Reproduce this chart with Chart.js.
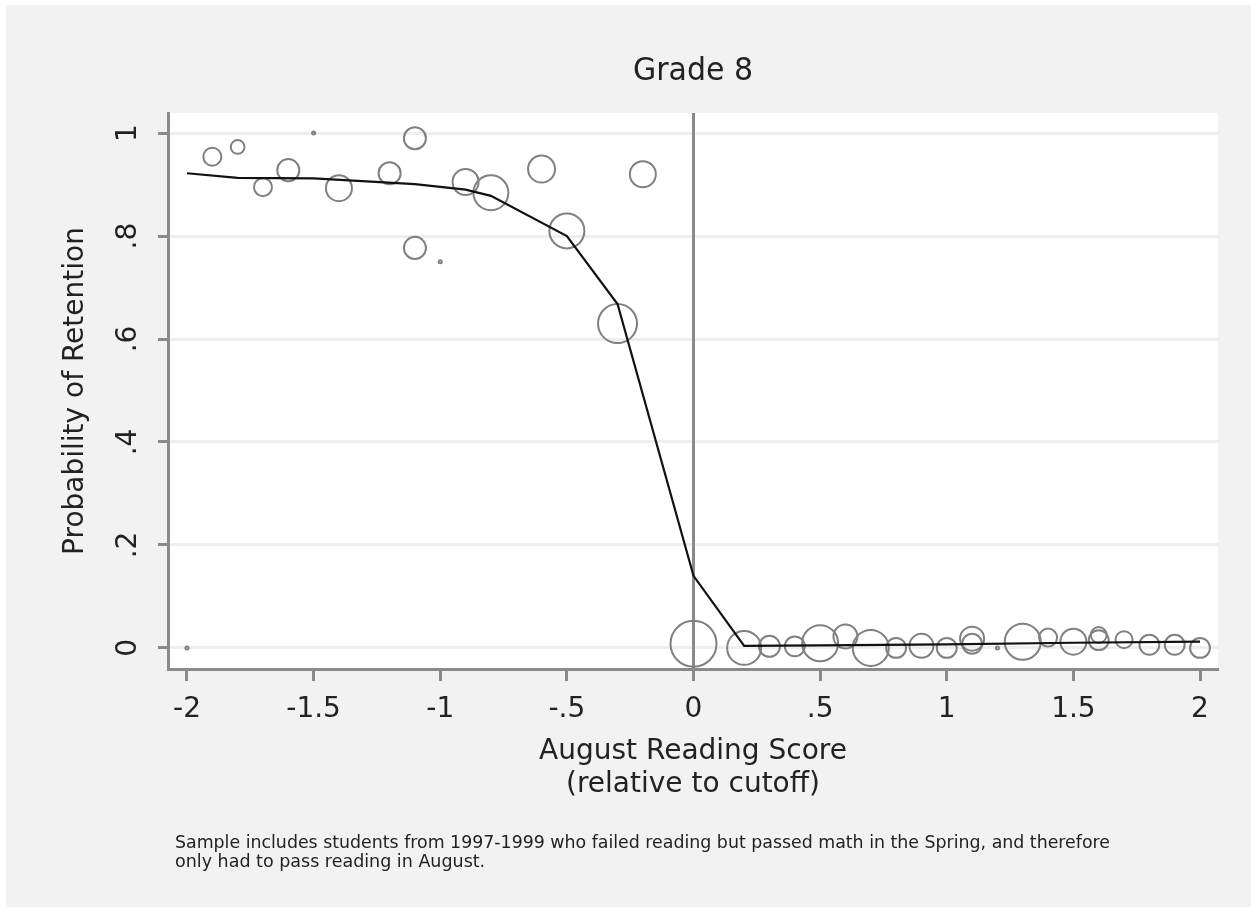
<!DOCTYPE html>
<html lang="en">
<head>
<meta charset="UTF-8">
<title>Grade 8 - Probability of Retention</title>
<script src="https://cdn.jsdelivr.net/npm/chart.js"></script>
<style>
  html, body { margin: 0; padding: 0; background: #fff; }
  canvas { display: block; }
</style>
</head>
<body>
<canvas id="retentionChart" width="1251" height="907"></canvas>
<script>
// binned means: August reading score bin, share retained, students in the bin
var binScore    = [-2.0, -1.9, -1.8, -1.7, -1.6, -1.5, -1.4, -1.2, -1.1, -1.1, -1.0, -0.9, -0.8, -0.6, -0.5, -0.3, -0.2,
                   0.0, 0.2, 0.3, 0.4, 0.5, 0.6, 0.7, 0.8, 0.9, 1.0, 1.1, 1.1, 1.2, 1.3, 1.4, 1.5, 1.6, 1.6, 1.7, 1.8, 1.9, 2.0];
var binRetained = [0.000, 0.954, 0.973, 0.895, 0.928, 1.000, 0.893, 0.922, 0.990, 0.777, 0.750, 0.905, 0.884, 0.930, 0.810, 0.630, 0.920,
                   0.008, 0.000, 0.003, 0.003, 0.009, 0.022, 0.000, 0.000, 0.004, 0.000, 0.018, 0.008, 0.000, 0.012, 0.020, 0.012, 0.025, 0.015, 0.016, 0.006, 0.006, 0.000];
var binCount    = [1, 36, 21, 36, 54, 1, 75, 54, 54, 54, 1, 75, 136, 81, 136, 169, 75,
                   235, 128, 49, 44, 144, 64, 144, 44, 64, 44, 64, 44, 1, 144, 36, 75, 28, 44, 32, 44, 44, 44];

// fitted probability of retention
var fitScore    = [-2.0, -1.8, -1.5, -1.1, -0.9, -0.8, -0.5, -0.3, 0.0, 0.2, 0.5, 1.0, 1.5, 2.0];
var fitRetained = [0.922, 0.913, 0.912, 0.901, 0.890, 0.878, 0.800, 0.668, 0.140, 0.004, 0.005, 0.007, 0.010, 0.012];

var xTicks = [-2, -1.5, -1, -0.5, 0, 0.5, 1, 1.5, 2];
var xTickLabels = ['-2', '-1.5', '-1', '-.5', '0', '.5', '1', '1.5', '2'];
var yTicks = [0, 0.2, 0.4, 0.6, 0.8, 1];
var yTickLabels = ['0', '.2', '.4', '.6', '.8', '1'];
var cutoff = 0;

var chartTitle = 'Grade 8';
var yTitle = 'Probability of Retention';
var xTitle = ['August Reading Score', '(relative to cutoff)'];
var note = ['Sample includes students from 1997-1999 who failed reading but passed math in the Spring, and therefore',
            'only had to pass reading in August.'];

var FONT = '"DejaVu Sans", "Open Sans", sans-serif';
var AXIS_GRAY = '#8a8a8a';

var stataFrame = {
    id: 'stataFrame',
    beforeDraw: function(chart) {
        var ctx = chart.ctx, a = chart.chartArea;
        ctx.save();
        ctx.fillStyle = '#ffffff';
        ctx.fillRect(0, 0, chart.width, chart.height);
        ctx.fillStyle = '#f2f2f2';
        ctx.fillRect(6, 5, chart.width - 6, chart.height - 5);
        ctx.fillStyle = '#ffffff';
        ctx.fillRect(a.left, a.top, a.right - a.left, a.bottom - a.top);
        ctx.restore();
    },
    beforeDatasetsDraw: function(chart) {
        // vertical line at the cutoff
        var ctx = chart.ctx, a = chart.chartArea;
        var x = chart.scales.x.getPixelForValue(cutoff);
        ctx.save();
        ctx.strokeStyle = AXIS_GRAY;
        ctx.lineWidth = 3;
        ctx.beginPath();
        ctx.moveTo(x, a.top);
        ctx.lineTo(x, a.bottom);
        ctx.stroke();
        ctx.restore();
    },
    afterDraw: function(chart) {
        var ctx = chart.ctx, a = chart.chartArea;
        var cx = (a.left + a.right) / 2;
        var cy = (a.top + a.bottom) / 2;
        ctx.save();
        ctx.fillStyle = '#222';
        ctx.textAlign = 'center';
        ctx.textBaseline = 'middle';

        ctx.font = '32px ' + FONT;
        ctx.fillText(chartTitle, cx, 72, 120);

        // y tick labels, turned like Stata does
        ctx.font = '28px ' + FONT;
        yTicks.forEach(function(v, i) {
            var y = chart.scales.y.getPixelForValue(v);
            ctx.save();
            ctx.translate(129, y);
            ctx.rotate(-Math.PI / 2);
            ctx.fillText(yTickLabels[i], 0, 0);
            ctx.restore();
        });

        ctx.save();
        ctx.translate(76, cy);
        ctx.rotate(-Math.PI / 2);
        ctx.fillText(yTitle, 0, 0);
        ctx.restore();

        ctx.fillText(xTitle[0], cx, 752);
        ctx.fillText(xTitle[1], cx, 785);

        ctx.font = '17.5px ' + FONT;
        ctx.textAlign = 'left';
        ctx.fillText(note[0], 175, 843, 935);
        ctx.fillText(note[1], 175, 862);
        ctx.restore();
    }
};

var bubbles = binScore.map(function(x, i) {
    return { x: x, y: binRetained[i], r: 1.5 * Math.sqrt(binCount[i]) };
});
var fitLine = fitScore.map(function(x, i) {
    return { x: x, y: fitRetained[i] };
});

var ctx = document.getElementById('retentionChart').getContext('2d');
var chart = new Chart(ctx, {
    type: 'bubble',
    data: {
        datasets: [{
            type: 'line',
            label: 'Fitted',
            data: fitLine,
            borderColor: '#111111',
            borderWidth: 2.2,
            pointRadius: 0,
            tension: 0,
            fill: false,
            order: 0
        }, {
            label: 'Bin means',
            data: bubbles,
            backgroundColor: 'rgba(0,0,0,0)',
            borderColor: '#808080',
            borderWidth: 2,
            order: 1
        }]
    },
    options: {
        responsive: false,
        animation: false,
        events: [],
        layout: { padding: { left: 0, top: 113, right: 33, bottom: 0 } },
        plugins: {
            legend: { display: false },
            tooltip: { enabled: false },
            title: { display: false }
        },
        scales: {
            x: {
                type: 'linear',
                min: -2.075,
                max: 2.071,
                afterBuildTicks: function(s) { s.ticks = xTicks.map(function(v) { return { value: v }; }); },
                afterFit: function(s) { s.height = 238; },
                ticks: {
                    autoSkip: false,
                    maxRotation: 0,
                    padding: 12,
                    color: '#222',
                    font: { family: FONT, size: 28 },
                    callback: function(v, i) { return xTickLabels[i]; }
                },
                grid: {
                    drawOnChartArea: false,
                    tickLength: 12,
                    tickColor: AXIS_GRAY,
                    tickWidth: 3
                },
                border: { color: AXIS_GRAY, width: 3 }
            },
            y: {
                type: 'linear',
                min: -0.041,
                max: 1.039,
                afterBuildTicks: function(s) { s.ticks = yTicks.map(function(v) { return { value: v }; }); },
                afterFit: function(s) { s.width = 168; },
                ticks: { display: false },
                grid: {
                    color: '#eeeeee',
                    lineWidth: 3,
                    tickLength: 10,
                    tickColor: AXIS_GRAY,
                    tickWidth: 3
                },
                border: { color: AXIS_GRAY, width: 3 }
            }
        }
    },
    plugins: [stataFrame]
});
</script>
</body>
</html>
